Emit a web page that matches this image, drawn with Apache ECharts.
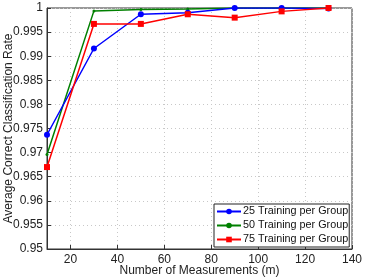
<!DOCTYPE html>
<html><head><meta charset="utf-8">
<script src="https://cdn.jsdelivr.net/npm/echarts@6/dist/echarts.min.js"></script>
<style>html,body{margin:0;padding:0;background:#fff}#c{width:366px;height:277px}</style>
</head><body><div id="c"></div>
<script>
var xValues = [10, 30, 50, 70, 90, 110, 130];
var s25 = [0.9737, 0.9916, 0.9987, 0.9990, 1.0000, 1.0000, 0.9999];
var s50 = [0.9696, 0.9994, 0.9997, 0.9998, 1.0000, 1.0000, 1.0000];
var s75 = [0.9670, 0.9967, 0.9967, 0.9987, 0.9980, 0.9993, 1.0000];
var names = ['25 Training per Group', '50 Training per Group', '75 Training per Group'];
var xTicks = [20, 40, 60, 80, 100, 120, 140];

function pairs(a){ return xValues.map(function(x,i){return [x,a[i]];}); }
var font = 'Liberation Sans, Arial, sans-serif';
var chart = echarts.init(document.getElementById('c'), null, {renderer:'canvas'});
var axisLine = {show:true, lineStyle:{color:'#333', width:1}};
chart.setOption({
  animation:false,
  textStyle:{fontFamily:font},
  grid:{left:47, right:14, top:8, bottom:28, show:true, borderColor:'#333', borderWidth:1,
    containLabel:false, outerBoundsMode:'none'},
  xAxis:[{
    type:'value', min:10, max:140, position:'bottom',
    name:'Number of Measurements (m)', nameLocation:'middle', nameGap:16, nameMoveOverlap:false,
    nameTextStyle:{fontSize:12, color:'#222', fontFamily:font},
    axisLine:axisLine,
    axisTick:{show:true, inside:true, length:4, customValues:xTicks, lineStyle:{color:'#333'}},
    axisLabel:{customValues:xTicks, fontSize:12, color:'#222', margin:5, fontFamily:font},
    splitLine:{show:true, lineStyle:{color:'#c8c8c8', type:[1,3], width:1}}
  }],
  yAxis:[{
    type:'value', min:0.95, max:1, interval:0.005,
    name:'Average Correct Classification Rate', nameLocation:'middle', nameGap:32, nameMoveOverlap:false,
    nameTextStyle:{fontSize:12, color:'#222', fontFamily:font},
    axisLine:axisLine,
    axisTick:{show:true, inside:true, length:4, lineStyle:{color:'#333'}},
    axisLabel:{fontSize:12, color:'#222', margin:4, fontFamily:font,
      formatter:function(v){ return String(parseFloat(v.toFixed(3))); }},
    splitLine:{show:true, lineStyle:{color:'#c8c8c8', type:[1,3], width:1}}
  }],
  legend:{
    left:214, top:204, orient:'vertical', itemGap:3, itemWidth:24, itemHeight:7,
    backgroundColor:'#fff', borderColor:'#222', borderWidth:1, padding:[2,1,2,2],
    textStyle:{fontSize:10.8, color:'#111', fontFamily:font, padding:[0,0,0,-3]},
    data:names
  },
  series:[
    {name:names[0], type:'line', data:pairs(s25), color:'#0000ff', symbol:'circle', symbolSize:6,
      lineStyle:{width:1.5}, z:3},
    {name:names[1], type:'line', data:pairs(s50), color:'#008000', symbol:'circle', symbolSize:3,
      lineStyle:{width:1.5}, z:2},
    {name:names[2], type:'line', data:pairs(s75), color:'#ff0000', symbol:'rect', symbolSize:6,
      lineStyle:{width:1.5}, z:4}
  ]
});
</script></body></html>
